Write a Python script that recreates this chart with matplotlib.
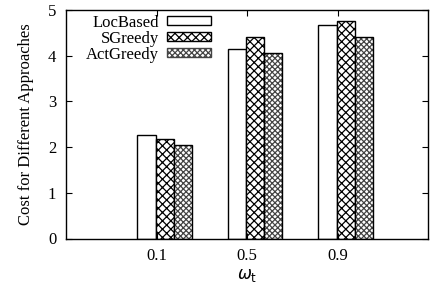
import matplotlib
matplotlib.use("Agg")
import matplotlib.pyplot as plt
from matplotlib.patches import Patch
import numpy as np

# Values
groups = ["0.1", "0.5", "0.9"]
loc_based = [2.26, 4.15, 4.67]
s_greedy = [2.17, 4.41, 4.77]
act_greedy = [2.04, 4.06, 4.41]

plt.rcParams["font.family"] = "Liberation Serif"
plt.rcParams["font.size"] = 12
plt.rcParams["hatch.linewidth"] = 0.9

fig = plt.figure(figsize=(4.33, 2.93), dpi=100)
ax = fig.add_axes([66 / 433, 1 - 238.5 / 293, (428 - 66) / 433, (238.5 - 10) / 293])

x = np.arange(len(groups))
w = 0.2

ax.bar(x - 0.11, loc_based, w, color="white", edgecolor="black", linewidth=1)
ax.bar(x + 0.09, s_greedy, w, color="white", edgecolor="black", hatch="xxxx", linewidth=1)
# ActGreedy: dense gray hatch, then black outline on top
ax.bar(x + 0.29, act_greedy, w, color="white", edgecolor="#444444", hatch="xxxxxx", linewidth=0)
ax.bar(x + 0.29, act_greedy, w, color="none", edgecolor="black", linewidth=1)

ax.set_xlim(-1, 3)
ax.set_ylim(0, 5)
ax.set_xticks(x)
ax.set_xticklabels(groups)
ax.set_yticks(range(6))
ax.tick_params(direction="in", length=4, top=True, right=False, pad=7)
ax.tick_params(axis="y", right=True, pad=7)
for s in ax.spines.values():
    s.set_linewidth(1)

ax.set_ylabel("Cost for Different Approaches", labelpad=10)
ax.set_xlabel(r"$\omega_\mathrm{t}$", labelpad=2)

handles = [
    Patch(facecolor="white", edgecolor="black", linewidth=1),
    Patch(facecolor="white", edgecolor="black", hatch="xxxx", linewidth=1),
    Patch(facecolor="white", edgecolor="#444444", hatch="xxxxxx", linewidth=1),
]
ax.legend(handles, ["LocBased", "SGreedy", "ActGreedy"], loc="upper left",
          bbox_to_anchor=(0.03, 1.02), frameon=False, markerfirst=False,
          handlelength=2.6, handleheight=0.45, labelspacing=0.0,
          handletextpad=0.5, borderaxespad=0.15)

fig.savefig("out.png", dpi=100)
